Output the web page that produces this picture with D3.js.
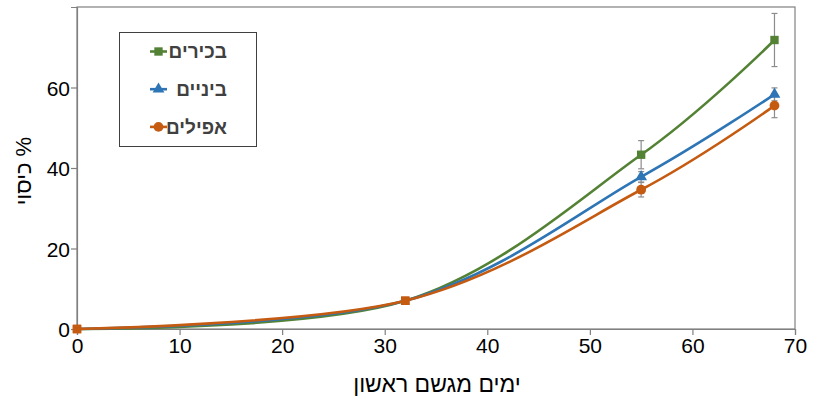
<!DOCTYPE html>
<meta charset="utf-8">
<title>כיסוי לפי ימים מגשם ראשון</title>
<style>
  body { margin: 0; background: #fff; }
  text { font-family: "Liberation Sans", Arial, sans-serif; }
</style>
<body>
<div id="chart"></div>
<script src="https://cdn.jsdelivr.net/npm/d3@7/dist/d3.min.js"></script>
<script>
  const width = 822;
  const height = 400;
  const margin = {top: 7, right: 27, bottom: 71, left: 77};

  // data
  const days = [0, 32, 55, 68];
  const seriesNames = ["בכירים", "ביניים", "אפילים"];
  const early = [0, 7, 43.3, 71.8];
  const earlyErr = [0, 0, 3.5, 6.6];
  const mid = [0, 7, 37.8, 58.3];
  const midErr = [0, 0, 1.3, 1.6];
  const late = [0, 7, 34.6, 55.5];
  const lateErr = [0, 0, 1.8, 3];
  const xTicks = [0, 10, 20, 30, 40, 50, 60, 70];
  const yTicks = [0, 20, 40, 60];

  const colors = ["#548235", "#2e75b6", "#c55a11"];
  const symbols = [d3.symbolSquare, d3.symbolTriangle, d3.symbolCircle];
  const symbolSizes = [70, 60, 75];

  const series = [early, mid, late].map((vals, k) => ({
    name: seriesNames[k],
    color: colors[k],
    symbol: symbols[k],
    size: symbolSizes[k],
    points: days.map((d, i) => ({x: d, y: vals[i], e: [earlyErr, midErr, lateErr][k][i]}))
  }));

  const svg = d3.select("#chart").append("svg")
    .attr("width", width)
    .attr("height", height);

  const x = d3.scaleLinear().domain([0, 70]).range([margin.left, width - margin.right]);
  const y = d3.scaleLinear().domain([0, 80]).range([height - margin.bottom, margin.top]);

  // plot frame
  svg.append("rect")
    .attr("x", x(0)).attr("y", y(80))
    .attr("width", x(70) - x(0)).attr("height", y(0) - y(80))
    .attr("fill", "none").attr("stroke", "#808080").attr("stroke-width", 1.2);

  // axes
  const xAxis = svg.append("g")
    .attr("transform", `translate(0,${y(0)})`)
    .call(d3.axisBottom(x).tickValues(xTicks).tickSize(6).tickPadding(3));
  const yAxis = svg.append("g")
    .attr("transform", `translate(${x(0)},0)`)
    .call(d3.axisLeft(y).tickValues(yTicks).tickSize(6).tickPadding(1));

  [xAxis, yAxis].forEach(g => {
    g.select(".domain").attr("stroke", "#808080").attr("stroke-width", 1.2);
    g.selectAll(".tick line").attr("stroke", "#808080").attr("stroke-width", 1.2);
    g.selectAll(".tick text")
      .attr("fill", "#000")
      .style("font-size", "21px")
      .style("font-family", "'Liberation Sans', Arial, sans-serif");
  });
  yAxis.selectAll(".tick text").attr("dy", "0.36em");

  // axis titles
  svg.append("text")
    .attr("x", 437)
    .attr("y", 392)
    .attr("text-anchor", "middle")
    .attr("direction", "rtl")
    .style("font-size", "23px")
    .attr("fill", "#000")
    .text("ימים מגשם ראשון");

  svg.append("text")
    .attr("transform", `translate(31,171) rotate(-90)`)
    .attr("text-anchor", "middle")
    .attr("direction", "rtl")
    .style("font-size", "22px")
    .attr("fill", "#000")
    .text("% כיסוי");

  // smoothed lines
  const line = d3.line()
    .x(d => x(d.x))
    .y(d => y(d.y))
    .curve(d3.curveCardinal.tension(0));

  series.forEach(s => {
    svg.append("path")
      .datum(s.points)
      .attr("fill", "none")
      .attr("stroke", s.color)
      .attr("stroke-width", 2.6)
      .attr("d", line);
  });

  // error bars
  const errPoints = series.flatMap(s => s.points.filter(p => p.e > 0));
  const eb = svg.append("g").attr("stroke", "#8c8c8c").attr("stroke-width", 1.2);
  errPoints.forEach(p => {
    eb.append("line").attr("x1", x(p.x)).attr("x2", x(p.x)).attr("y1", y(p.y - p.e)).attr("y2", y(p.y + p.e));
    [p.y - p.e, p.y + p.e].forEach(v => {
      eb.append("line").attr("x1", x(p.x) - 3).attr("x2", x(p.x) + 3).attr("y1", y(v)).attr("y2", y(v));
    });
  });

  // markers; the shared points (0, 32) show as orange squares
  series.forEach((s, k) => {
    svg.append("g").selectAll("path")
      .data(s.points)
      .join("path")
      .attr("transform", d => `translate(${x(d.x)},${y(d.y)})`)
      .attr("fill", d => d.x <= 32 ? colors[2] : s.color)
      .attr("d", d => d3.symbol().type(d.x <= 32 ? d3.symbolSquare : s.symbol).size(d.x <= 32 ? 70 : s.size)());
  });

  // legend
  const legend = svg.append("g");
  legend.append("rect")
    .attr("x", 119.5).attr("y", 32.5)
    .attr("width", 137).attr("height", 114)
    .attr("fill", "#fff").attr("stroke", "#404040").attr("stroke-width", 1);

  series.forEach((s, k) => {
    const ly = 51.5 + k * 37.7;
    const g = legend.append("g");
    g.append("line")
      .attr("x1", 150).attr("x2", 167).attr("y1", ly).attr("y2", ly)
      .attr("stroke", s.color).attr("stroke-width", 2.6);
    g.append("path")
      .attr("transform", `translate(158.5,${ly})`)
      .attr("fill", s.color)
      .attr("d", d3.symbol().type(s.symbol).size(s.size)());
    g.append("text")
      .attr("x", 227).attr("y", ly)
      .attr("dy", "0.35em")
      .attr("text-anchor", "start")
      .attr("direction", "rtl")
      .attr("fill", "#404040")
      .style("font-size", "19px")
      .style("font-weight", "bold")
      .text(s.name);
  });
</script>
</body>
